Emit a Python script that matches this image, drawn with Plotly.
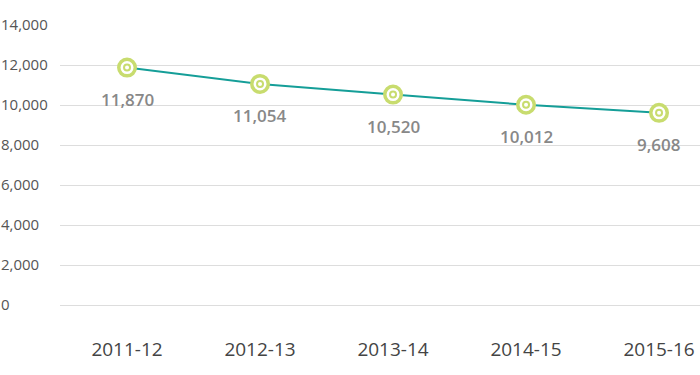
import plotly.graph_objects as go

years = ["2011-12", "2012-13", "2013-14", "2014-15", "2015-16"]
values = [11870, 11054, 10520, 10012, 9608]
y_ticks = [0, 2000, 4000, 6000, 8000, 10000, 12000, 14000]

LINE = "#159e98"
RING = "#c8dc6e"
FONT = "Open Sans"

fig = go.Figure()
fig.add_trace(go.Scatter(x=years, y=values, mode="lines",
                         line=dict(color=LINE, width=2), hoverinfo="skip", showlegend=False))
fig.add_trace(go.Scatter(x=years, y=values, mode="markers",
                         marker=dict(symbol="circle", size=16.5, color="white",
                                     line=dict(color=RING, width=3.5)),
                         showlegend=False))
fig.add_trace(go.Scatter(x=years, y=values, mode="markers",
                         marker=dict(symbol="circle", size=6, color="white",
                                     line=dict(color=RING, width=2)),
                         hoverinfo="skip", showlegend=False))
# helper trace so the label axis is drawn
fig.add_trace(go.Scatter(x=years, y=values, mode="markers", yaxis="y2",
                         marker=dict(opacity=0), hoverinfo="skip", showlegend=False))

for yr, v in zip(years, values):
    fig.add_annotation(x=yr, y=v, text=f"{v:,}", showarrow=False, yshift=-32,
                       font=dict(family=FONT, size=17, color="#888888", weight=600))

fig.update_layout(
    width=700, height=375,
    margin=dict(l=0, r=0, t=25, b=70),
    paper_bgcolor="white", plot_bgcolor="white",
    font=dict(family=FONT),
    xaxis=dict(domain=[60 / 700, 1], type="category", range=[-0.504, 4.308],
               showgrid=False, showline=False, zeroline=False, ticks="",
               automargin=False,
               tickfont=dict(size=19, color="#444444"), ticklabelstandoff=31),
    yaxis=dict(range=[0, 14000], tickvals=y_ticks, showticklabels=False,
               showgrid=True, gridcolor="#dddddd", gridwidth=1,
               zeroline=True, zerolinecolor="#dddddd", zerolinewidth=1,
               showline=False, ticks="", automargin=False),
    yaxis2=dict(overlaying="y", anchor="free", position=0, side="right",
                range=[0, 14000], tickvals=y_ticks, tickformat=",",
                showgrid=False, zeroline=False, automargin=False,
                showline=False, ticks="",
                tickfont=dict(size=15, color="#555555")),
)

fig.write_html("out.html", config={"displayModeBar": False},
               post_script="document.body.style.margin='0';document.body.style.overflow='hidden';")
